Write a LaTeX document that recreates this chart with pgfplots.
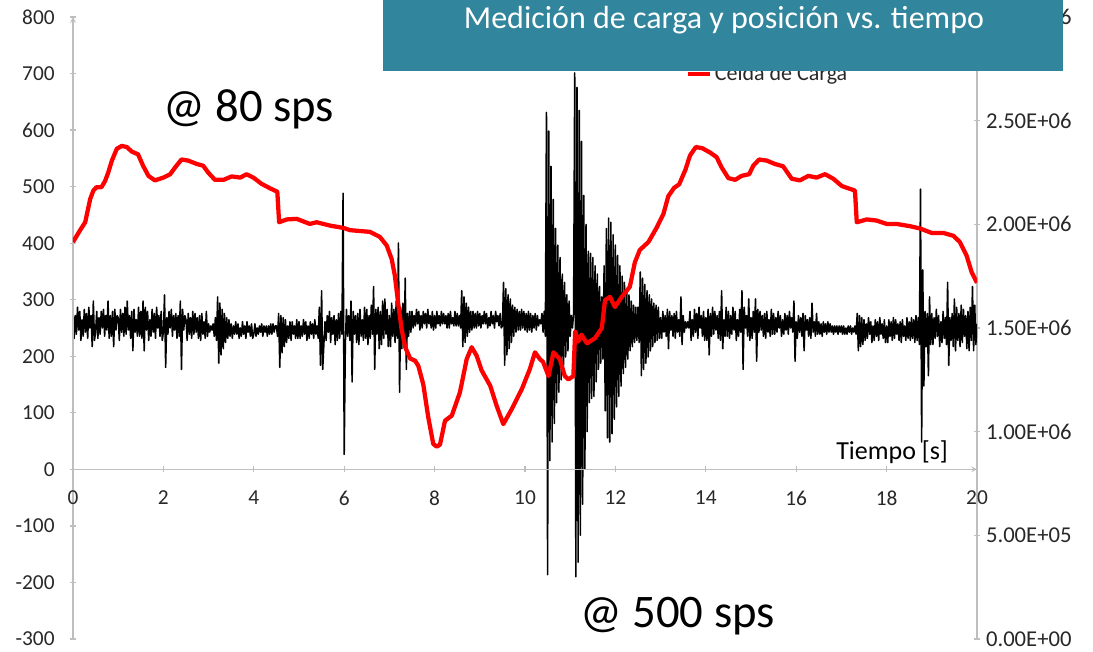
\documentclass[border=0pt]{standalone}
\usepackage{fontspec}
\setmainfont{Carlito}
\usepackage{pgfplots}
\usepackage{pgfplotstable}
\pgfplotsset{compat=1.18}

\definecolor{titleteal}{RGB}{49,133,156}
\definecolor{axisgray}{RGB}{190,190,190}
\definecolor{ticktext}{RGB}{40,40,40}

% Load cell reading (80 sps), time [s] and load
\pgfplotstableread{
t v
0.00 402
0.15 422
0.27 437
0.38 478
0.45 493
0.52 499
0.63 499
0.71 510
0.78 525
0.86 546
0.97 567
1.08 572
1.19 570
1.30 562
1.44 557
1.55 537
1.67 519
1.81 511
2.00 516
2.15 522
2.26 534
2.40 548
2.55 546
2.74 540
2.88 537
2.99 525
3.14 512
3.33 512
3.51 518
3.70 516
3.84 522
3.99 516
4.17 505
4.36 497
4.52 491
4.56 437
4.73 442
4.95 443
5.24 434
5.39 437
5.69 431
5.98 427
6.13 423
6.57 420
6.79 411
6.94 396
7.05 372
7.12 343
7.20 290
7.27 248
7.35 216
7.46 196
7.57 192
7.64 183
7.75 150
7.86 92
7.97 45
8.05 40
8.12 44
8.23 86
8.38 95
8.56 136
8.71 195
8.82 216
8.93 201
9.04 175
9.23 148
9.37 113
9.52 80
9.71 107
9.93 142
10.11 178
10.22 207
10.33 195
10.40 190
10.52 165
10.63 207
10.77 195
10.88 165
10.96 159
11.07 165
11.11 244
11.18 226
11.25 238
11.37 223
11.55 232
11.70 250
11.77 299
11.88 305
11.99 287
12.14 305
12.32 323
12.43 366
12.54 388
12.73 402
12.91 427
13.06 451
13.17 483
13.30 498
13.41 504
13.55 530
13.65 555
13.78 570
13.92 568
14.10 560
14.24 552
14.35 534
14.50 515
14.65 512
14.79 519
14.96 522
15.05 537
15.18 548
15.35 546
15.53 540
15.71 536
15.90 514
16.08 511
16.27 519
16.45 516
16.64 522
16.82 514
17.01 501
17.19 496
17.30 493
17.34 437
17.56 442
17.78 440
18.00 434
18.22 434
18.52 430
18.74 426
19.00 418
19.26 418
19.48 413
19.62 402
19.77 378
19.88 349
20.00 330
}\loadcell

% Position signal (500 sps, decimated to one sample every 0.025 s),
% in units of 10^4 counts; one line per half second
\pgfplotstableread[row sep=\\]{
p\\
158\\145\\156\\147\\160\\149\\158\\144\\154\\146\\159\\148\\157\\145\\160\\150\\156\\141\\163\\144\\
148\\158\\145\\155\\147\\158\\150\\159\\146\\156\\149\\163\\145\\156\\146\\158\\141\\159\\149\\156\\
155\\144\\159\\148\\157\\146\\160\\147\\163\\149\\156\\145\\158\\139\\159\\148\\154\\146\\160\\146\\
158\\145\\163\\139\\160\\149\\158\\144\\154\\146\\159\\148\\157\\145\\160\\150\\156\\146\\158\\144\\
148\\166\\131\\155\\147\\158\\150\\159\\146\\156\\149\\157\\145\\156\\146\\163\\130\\159\\149\\156\\
154\\144\\157\\147\\155\\145\\158\\147\\157\\148\\155\\145\\156\\144\\157\\147\\153\\145\\158\\146\\
152\\148\\151\\149\\152\\146\\155\\144\\165\\133\\162\\137\\159\\140\\157\\143\\155\\145\\154\\146\\
152\\145\\151\\147\\153\\147\\152\\145\\150\\146\\153\\147\\151\\145\\153\\148\\151\\146\\152\\145\\
147\\152\\146\\150\\147\\151\\148\\152\\146\\151\\148\\151\\146\\151\\147\\152\\147\\152\\148\\151\\
151\\146\\157\\131\\156\\138\\155\\141\\154\\143\\151\\145\\153\\144\\153\\147\\151\\145\\154\\145\\
153\\145\\151\\146\\154\\147\\153\\144\\151\\145\\153\\147\\152\\145\\154\\147\\151\\145\\160\\132\\
168\\130\\142\\153\\144\\156\\148\\158\\143\\155\\147\\156\\142\\154\\144\\157\\145\\158\\147\\215\\
89\\142\\159\\146\\156\\144\\163\\124\\158\\147\\156\\143\\157\\142\\159\\146\\154\\144\\160\\145\\
159\\142\\156\\145\\161\\147\\170\\130\\159\\147\\160\\140\\158\\142\\163\\145\\164\\147\\159\\141\\
156\\141\\162\\146\\159\\143\\163\\145\\191\\119\\160\\140\\162\\141\\174\\130\\157\\146\\158\\148\\
158\\150\\156\\151\\159\\152\\158\\149\\156\\150\\158\\152\\157\\150\\159\\152\\156\\150\\158\\149\\
156\\150\\158\\152\\156\\151\\158\\152\\157\\152\\156\\150\\157\\150\\158\\152\\155\\151\\158\\151\\
157\\151\\156\\150\\168\\141\\165\\143\\162\\146\\160\\148\\158\\149\\158\\150\\157\\150\\158\\151\\
157\\150\\156\\152\\158\\152\\157\\150\\155\\151\\158\\152\\156\\150\\158\\153\\156\\151\\157\\150\\
151\\172\\132\\169\\137\\166\\140\\164\\143\\161\\146\\160\\148\\159\\149\\158\\149\\159\\150\\158\\
149\\157\\148\\158\\149\\157\\148\\156\\150\\157\\149\\156\\151\\154\\152\\157\\148\\158\\146\\254\\
31\\245\\86\\228\\95\\212\\104\\198\\114\\190\\119\\184\\125\\176\\130\\172\\136\\166\\139\\163\\
146\\156\\150\\157\\273\\30\\266\\37\\255\\50\\240\\65\\214\\82\\200\\100\\187\\114\\186\\116\\
184\\117\\180\\124\\176\\130\\170\\133\\165\\135\\180\\110\\198\\97\\203\\95\\201\\99\\195\\106\\
190\\112\\185\\117\\180\\122\\175\\128\\172\\131\\168\\135\\166\\139\\163\\141\\161\\143\\160\\144\\
160\\143\\177\\127\\174\\130\\171\\133\\168\\136\\166\\139\\164\\141\\162\\143\\161\\144\\160\\145\\
155\\145\\158\\148\\156\\146\\159\\140\\158\\149\\156\\146\\157\\145\\158\\148\\154\\146\\165\\142\\
156\\148\\153\\150\\153\\150\\158\\144\\154\\146\\159\\148\\157\\145\\160\\150\\156\\146\\158\\144\\
155\\144\\159\\137\\157\\146\\160\\147\\158\\149\\156\\145\\158\\144\\168\\140\\154\\146\\160\\146\\
158\\145\\156\\147\\160\\149\\158\\144\\154\\146\\159\\148\\168\\130\\160\\150\\156\\146\\164\\144\\
155\\145\\158\\148\\164\\134\\159\\148\\158\\149\\156\\146\\157\\145\\158\\148\\154\\146\\159\\147\\
157\\147\\155\\148\\158\\150\\156\\146\\154\\147\\157\\149\\156\\147\\158\\150\\155\\148\\163\\134\\
153\\145\\156\\148\\155\\146\\157\\139\\156\\149\\154\\146\\155\\145\\162\\148\\153\\146\\157\\147\\
153\\147\\152\\146\\153\\148\\152\\147\\153\\148\\152\\148\\151\\147\\151\\148\\151\\147\\151\\148\\
151\\147\\151\\147\\150\\147\\151\\148\\151\\147\\150\\148\\151\\147\\157\\139\\156\\141\\155\\142\\
154\\144\\152\\145\\155\\147\\153\\143\\151\\144\\154\\146\\153\\144\\155\\147\\152\\145\\154\\143\\
151\\143\\154\\146\\153\\144\\155\\145\\154\\147\\152\\144\\153\\143\\154\\146\\151\\144\\155\\145\\
153\\144\\155\\145\\154\\143\\156\\144\\155\\142\\217\\95\\178\\122\\158\\141\\157\\127\\165\\142\\
157\\142\\155\\145\\159\\146\\156\\141\\153\\143\\158\\145\\155\\142\\172\\132\\155\\144\\157\\141\\
164\\139\\160\\144\\157\\141\\161\\143\\159\\146\\156\\140\\158\\139\\160\\144\\170\\139\\161\\142\\
152\\
}\poscounts

\pgfplotsset{
  chartbase/.style={
    scale only axis, width=678pt, height=466.5pt,
    xmin=0, xmax=20,
    axis line style={axisgray, line width=0.9pt, -},
    tick align=outside, major tick length=4.5pt,
    tick style={axisgray, line width=0.9pt},
    ticklabel style={font=\fontsize{16}{18}\selectfont, text=ticktext},
    /pgf/number format/assume math mode=true,
  },
}

\begin{document}
\begin{tikzpicture}
\useasboundingbox (-54.75pt,-9.75pt) rectangle (765pt,479.25pt);

% secondary axis: position signal
\begin{axis}[chartbase,
  ymin=0, ymax=300,
  axis x line=none, axis y line=right,
  ytick={0,50,100,150,200,250,300},
  yticklabels={0.00E+00,5.00E+05,1.00E+06,1.50E+06,2.00E+06,2.50E+06,3.00E+06},
  yticklabel style={font=\fontsize{17}{18}\selectfont, xshift=1pt},
]
\addplot[black, line width=1.15pt, line join=round] table[x expr=\coordindex*0.025, y=p] {\poscounts};
\end{axis}

% primary axis: load cell
\begin{axis}[chartbase,
  ymin=-300, ymax=800,
  axis x line=middle, axis y line=left,
  hide obscured x ticks=false, hide obscured y ticks=false,
  xtick={0,2,...,20},
  ytick={-300,-200,...,800},
  yticklabels={-300,-200,-100,0,100,200,300,400,500,600,700,800},
  yticklabel style={xshift=-8pt},
  xticklabel style={yshift=-10.5pt},
  legend style={at={(axis cs:13.56,699)}, anchor=west, draw=none, fill=none,
    font=\fontsize{16.5}{18}\selectfont, text=ticktext, inner sep=0pt},
  legend image code/.code={\draw[red, line width=3pt] (0pt,0pt) -- (16.5pt,0pt);},
]
\addplot[red, line width=3.2pt, line join=round] table[x=t, y=v] {\loadcell};
\addlegendentry{Celda de Carga}
\end{axis}

\node[anchor=base west, inner sep=0pt, font=\fontsize{35}{40}\selectfont] at (67.5pt,387.75pt) {@ 80 sps};
\node[anchor=base west, inner sep=0pt, font=\fontsize{35}{40}\selectfont] at (380.25pt,8.25pt) {@ 500 sps};
\node[anchor=base west, inner sep=0pt, font=\fontsize{19.5}{22}\selectfont] at (572.25pt,134.25pt) {Tiempo [s]};

\fill[titleteal] (232.5pt,426pt) rectangle (742.5pt,485pt);
\node[anchor=base, inner sep=0pt, text=white, font=\fontsize{24}{28}\selectfont] at (488.25pt,457.5pt) {Medición de carga y posición vs. tiempo};
\end{tikzpicture}
\end{document}
